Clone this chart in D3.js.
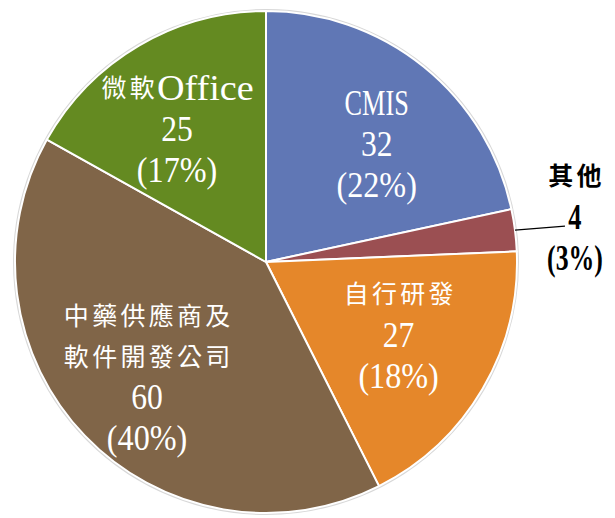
<!DOCTYPE html>
<html>
<head>
<meta charset="utf-8">
<script src="https://cdn.jsdelivr.net/npm/d3@7"></script>
<style>
  body { margin: 0; background: #fff; }
</style>
</head>
<body>
<svg id="chart" width="615" height="518"></svg>
<script>
// chart data
const categories = ["CMIS", "其他", "自行研發", "中藥供應商及軟件開發公司", "微軟Office"];
const values = [32, 4, 27, 60, 25];
const percents = [22, 3, 18, 40, 17]; // as printed on the chart
const colors = ["#6077b5", "#9b4f52", "#e5872a", "#806548", "#648a21"];
// label lines (category name broken as in the picture)
const nameLines = [["CMIS"], ["其他"], ["自行研發"], ["中藥供應商及", "軟件開發公司"], ["微軟Office"]];

const width = 615, height = 518;
const cx = 266, cy = 262, radius = 251;
const lineGap = 41;
const cjkSize = 25, cjkPitch = 28.3;
const latSize = 36, latPitch = 16.3;
// small nudges for the label blocks (px)
const nudges = [[9, 8], [0, 0], [-7, -9], [-2, 3], [-7, 7]];

const rows = categories.map((c, i) => ({ name: c, value: values[i], pct: percents[i], color: colors[i], lines: nameLines[i], i }));

const svg = d3.select("#chart");
const g = svg.append("g").attr("transform", `translate(${cx},${cy})`);

const pie = d3.pie().value(d => d.value).sort(null);
const arc = d3.arc().innerRadius(0).outerRadius(radius);
const labelArc = d3.arc().innerRadius(radius * 0.645).outerRadius(radius * 0.645);
const arcs = pie(rows);

// faint shadow rim
g.append("circle")
  .attr("r", radius + 1)
  .attr("fill", "none")
  .attr("stroke", "#d8d8d8")
  .attr("stroke-width", 2);

g.selectAll("path.slice")
  .data(arcs)
  .enter()
  .append("path")
  .attr("class", "slice")
  .attr("d", arc)
  .attr("fill", d => d.data.color)
  .attr("stroke", "#fff")
  .attr("stroke-width", 2)
  .attr("stroke-linejoin", "round");

const isCJK = ch => /[\u3000-\u9fff\uff00-\uffef]/.test(ch);

// draw one line centred at (x, y), splitting CJK and Latin runs;
// latin runs get squeezed to a fixed pitch with a scale transform
function drawLine(parent, text, x, y, fill, weight, pitch) {
  const runs = [];
  for (const ch of text) {
    const t = isCJK(ch);
    if (runs.length && runs[runs.length - 1].cjk === t) runs[runs.length - 1].s += ch;
    else runs.push({ cjk: t, s: ch });
  }
  runs.forEach(r => { r.w = [...r.s].length * (r.cjk ? cjkPitch : pitch); });
  let x0 = x - d3.sum(runs, r => r.w) / 2;
  runs.forEach(r => {
    const tg = parent.append("g");
    const t = tg.append("text")
      .attr("x", 0)
      .attr("y", 0)
      .attr("font-family", r.cjk ? "'Noto Sans CJK TC', 'Noto Sans CJK SC', sans-serif" : "'Liberation Serif', 'Times New Roman', serif")
      .attr("font-size", r.cjk ? cjkSize : latSize)
      .attr("font-weight", weight)
      .attr("fill", fill)
      .text(r.s);
    if (r.cjk) {
      t.attr("letter-spacing", cjkPitch - cjkSize);
      tg.attr("transform", `translate(${x0 + (cjkPitch - cjkSize) / 2},${y + cjkSize * 0.36})`);
    } else {
      const nat = t.node().getComputedTextLength();
      const sx = (r.w - 1) / nat;
      tg.attr("transform", `translate(${x0 + 0.5},${y + latSize * 0.33}) scale(${sx},1)`);
    }
    x0 += r.w;
  });
}

const labels = g.append("g");
arcs.forEach(a => {
  const d = a.data;
  const lines = d.lines.concat([String(d.value), "(" + d.pct + "%)"]);
  let px, py, fill, weight, pitch = latPitch;
  if (d.name === "其他") {
    // outside label with leader line
    const mid = (a.startAngle + a.endAngle) / 2;
    const ex = Math.sin(mid) * radius, ey = -Math.cos(mid) * radius;
    px = ex + 60; py = ey - 13;
    labels.append("line")
      .attr("x1", ex).attr("y1", ey)
      .attr("x2", ex + 50).attr("y2", ey - 4)
      .attr("stroke", "#000").attr("stroke-width", 1.3);
    fill = "#000"; weight = 700; pitch = 14.2;
  } else {
    const c = labelArc.centroid(a);
    px = c[0] + nudges[d.i][0]; py = c[1] + nudges[d.i][1];
    fill = "#fff"; weight = 400;
  }
  const top = py - (lines.length - 1) * lineGap / 2;
  lines.forEach((t, k) => drawLine(labels, t, px, top + k * lineGap, fill, weight, pitch));
});
</script>
</body>
</html>
